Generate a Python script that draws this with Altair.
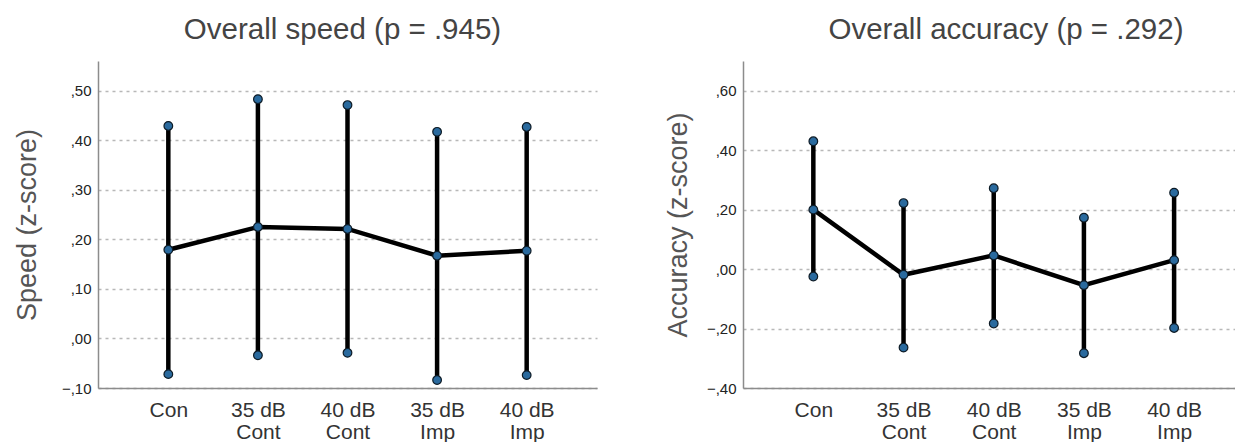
import altair as alt
import pandas as pd

categories = ["Con", "35 dB\nCont", "40 dB\nCont", "35 dB\nImp", "40 dB\nImp"]

speed_mean = [0.179, 0.225, 0.221, 0.167, 0.177]
speed_hi = [0.429, 0.483, 0.471, 0.417, 0.427]
speed_lo = [-0.072, -0.034, -0.029, -0.084, -0.074]

acc_mean = [0.200, -0.019, 0.046, -0.054, 0.030]
acc_hi = [0.430, 0.222, 0.272, 0.173, 0.257]
acc_lo = [-0.025, -0.264, -0.183, -0.283, -0.198]

speed_ticks = [-0.1, 0.0, 0.1, 0.2, 0.3, 0.4, 0.5]
acc_ticks = [-0.4, -0.2, 0.0, 0.2, 0.4, 0.6]

FONT = "Liberation Sans"
LABEL_EXPR_Y = "replace(format(datum.value, '.2f'), '0.', ',')"


def panel(mean, lo, hi, title, ytitle, domain, ticks, width, pad, align, dx, tpad):
    df = pd.DataFrame({"cat": categories, "mean": mean, "lo": lo, "hi": hi})
    xscale = alt.Scale(type="point", padding=pad, align=align, domain=categories)
    x = alt.X(
        "cat:N",
        scale=xscale,
        sort=categories,
        axis=alt.Axis(
            title=None,
            labelAngle=0,
            labelExpr="split(datum.label, '\\n')",
            labelFontSize=21,
            labelLineHeight=22,
            labelColor="#333333",
            labelFont=FONT,
            labelPadding=11,
            ticks=False,
            grid=False,
            domainColor="#8c8c8c",
            domainWidth=1.5,
        ),
    )
    yaxis = alt.Axis(
        title=ytitle,
        values=ticks,
        labelExpr=LABEL_EXPR_Y,
        labelFontSize=15,
        labelColor="#222222",
        labelFont=FONT,
        labelPadding=7,
        titleFont=FONT,
        titleFontSize=27,
        titleFontWeight="normal",
        titleColor="#555555",
        titlePadding=tpad,
        ticks=False,
        grid=True,
        gridDash=[3, 4],
        gridColor="#b8b8b8",
        gridWidth=1.5,
        domainColor="#8c8c8c",
        domainWidth=1.5,
    )
    yscale = alt.Scale(domain=domain, nice=False, zero=False)
    base = alt.Chart(df)
    rules = base.mark_rule(color="black", strokeWidth=4.5).encode(
        x=x,
        y=alt.Y("lo:Q", scale=yscale, axis=yaxis),
        y2="hi:Q",
    )
    line = base.mark_line(color="black", strokeWidth=4.5).encode(
        x=x, y=alt.Y("mean:Q", scale=yscale)
    )
    pts = base.transform_fold(["lo", "mean", "hi"], as_=["k", "v"]).mark_point(
        filled=True, fill="#2a6a9e", stroke="#0d1b26", strokeWidth=1.2,
        size=75, opacity=1, shape="circle"
    ).encode(x=x, y=alt.Y("v:Q", scale=yscale))
    return alt.layer(rules, line, pts).properties(
        width=width,
        height=327,
        title=alt.TitleParams(
            text=title,
            fontSize=29.5,
            font=FONT,
            fontWeight="normal",
            color="#444444",
            anchor="middle",
            frame="group",
            offset=16,
            dx=dx,
        ),
    )


left = panel(speed_mean, speed_lo, speed_hi, "Overall speed (p = .945)",
             "Speed (z-score)", [-0.1, 0.56], speed_ticks, 499, 0.785, 0.5, -5, 20)
right = panel(acc_mean, acc_lo, acc_hi, "Overall accuracy (p = .292)",
              "Accuracy (z-score)", [-0.4, 0.7], acc_ticks, 492, 0.7275, 0.536, 17, 14)

chart = alt.hconcat(left, right, spacing=146, bounds="flush").properties(
    padding={"left": 13, "top": 14, "right": 0, "bottom": 0},
    background="white",
).configure_view(stroke=None, strokeWidth=0)

chart.save("out.html", embed_options={"renderer": "svg", "actions": False})
